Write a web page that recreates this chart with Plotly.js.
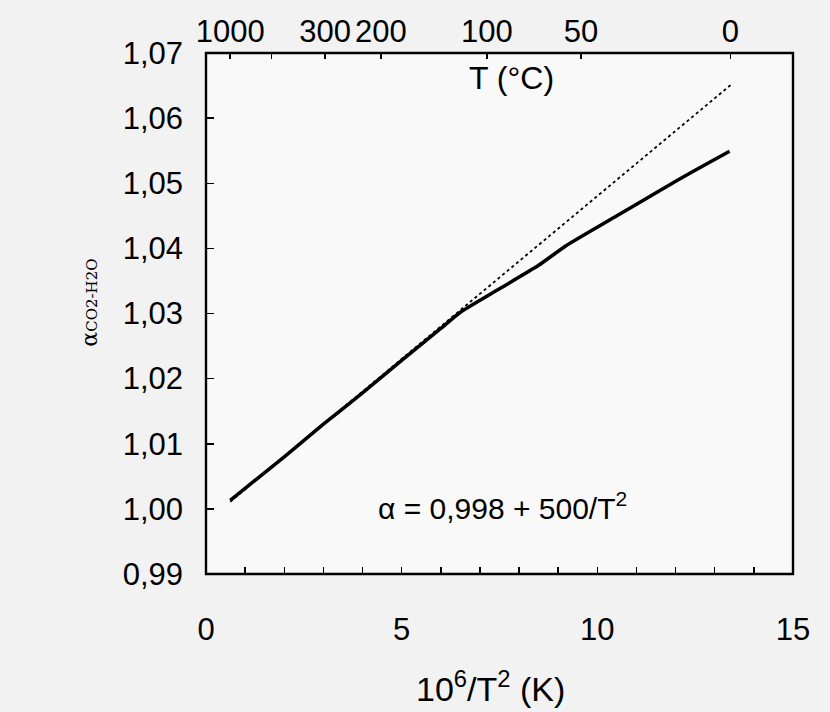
<!DOCTYPE html>
<html>
<head>
<meta charset="utf-8">
<script src="https://cdn.plot.ly/plotly-3.0.1.min.js"></script>
<style>
html,body{margin:0;padding:0;background:#f2f2f2;}
#chart{width:830px;height:712px;}
</style>
</head>
<body>
<div id="chart"></div>
<script>
// Solid curve
const solidX = [0.62, 2, 3, 4, 5, 6, 6.5, 7.5, 8.5, 9.2, 10.5, 11.6, 12.5, 13.38];
const solidY = [1.0013, 1.0080, 1.0130, 1.0178, 1.0228, 1.0277, 1.0302, 1.0338, 1.0374, 1.0404, 1.0450, 1.0489, 1.0520, 1.0549];
// Dotted straight line (alpha = 0.998 + 500/T^2), endpoints
const dotX = [0.62, 13.45];
const dotY = [1.0011, 1.0653];
// Bottom axis ticks
const bottomTickVals = [0,1,2,3,4,5,6,7,8,9,10,11,12,13,14,15];
const bottomTickText = ["0","","","","","5","","","","","10","","","","","15"];
// Top axis: temperature in °C, positioned at 10^6/T^2
const topTickVals = [0.617, 1.673, 3.045, 4.467, 7.18, 9.58, 13.40];
const topTickText = ["1000", "", "300", "200", "100", "50", "0"];
// Left axis ticks
const yTickVals = [0.99, 1.00, 1.01, 1.02, 1.03, 1.04, 1.05, 1.06, 1.07];

const font = "Liberation Sans, Arial, sans-serif";

const traces = [
  {x: dotX, y: dotY, mode: "lines", line: {color: "#000", width: 1.8, dash: "dot"}, hoverinfo: "skip"},
  {x: solidX, y: solidY, mode: "lines", line: {color: "#000", width: 3.5, shape: "spline", smoothing: 0.5}, hoverinfo: "skip"},
  {x: [0], y: [1], xaxis: "x2", mode: "markers", marker: {opacity: 0}, hoverinfo: "skip"}
];

const layout = {
  width: 830, height: 712,
  paper_bgcolor: "#f2f2f2",
  plot_bgcolor: "#f9f9f9",
  showlegend: false,
  separators: ",.",
  margin: {l: 205.5, r: 36.5, t: 52.7, b: 137.7, pad: 0},
  font: {family: font, color: "#000", size: 31},
  xaxis: {
    range: [0, 15], tickvals: bottomTickVals, ticktext: bottomTickText,
    ticks: "inside", ticklen: 7, tickwidth: 1.5, tickcolor: "#000",
    showline: false, showgrid: false, zeroline: false, ticklabelstandoff: 34,
    tickfont: {size: 31, family: font, color: "#000"}
  },
  xaxis2: {
    range: [0, 15], overlaying: "x", side: "top", anchor: "y",
    tickvals: topTickVals, ticktext: topTickText,
    ticks: "inside", ticklen: 6, tickwidth: 1.5, tickcolor: "#000",
    showline: false, showgrid: false, zeroline: false, ticklabelstandoff: 4,
    tickfont: {size: 31, family: font, color: "#000"}
  },
  yaxis: {
    range: [0.99, 1.07], tickvals: yTickVals, tickformat: ".2f",
    ticks: "inside", ticklen: 8, tickwidth: 1.5, tickcolor: "#000",
    showline: false, showgrid: false, zeroline: false, ticklabelstandoff: 22,
    tickfont: {size: 31, family: font, color: "#000"}
  },
  shapes: [
    {type: "rect", xref: "paper", yref: "paper", x0: 0, x1: 1, y0: 0, y1: 1, line: {color: "#000", width: 2.4}, fillcolor: "rgba(0,0,0,0)", layer: "above"}
  ],
  annotations: [
    {text: "T (°C)", xref: "paper", yref: "paper", x: 0.52, y: 0.952, xanchor: "center", yanchor: "middle", showarrow: false, font: {size: 32, family: font, color: "#000"}},
    {text: "α = 0,998 + 500/T<sup>2</sup>", xref: "paper", yref: "paper", x: 0.505, y: 0.13, xanchor: "center", yanchor: "middle", showarrow: false, font: {size: 30, family: font, color: "#000"}},
    {text: "10<sup>6</sup>/T<sup>2</sup> (K)", xref: "paper", yref: "paper", x: 0.485, y: -0.215, xanchor: "center", yanchor: "middle", showarrow: false, font: {size: 34, family: font, color: "#000"}},
    {text: "α<span style='font-size:15px'>CO2-H2O</span>", xref: "paper", yref: "paper", x: -0.2, y: 0.52, xanchor: "center", yanchor: "middle", textangle: -90, showarrow: false, font: {size: 22, family: "DejaVu Serif, serif", color: "#000"}}
  ]
};

Plotly.newPlot("chart", traces, layout, {staticPlot: true, displayModeBar: false});
</script>
</body>
</html>
